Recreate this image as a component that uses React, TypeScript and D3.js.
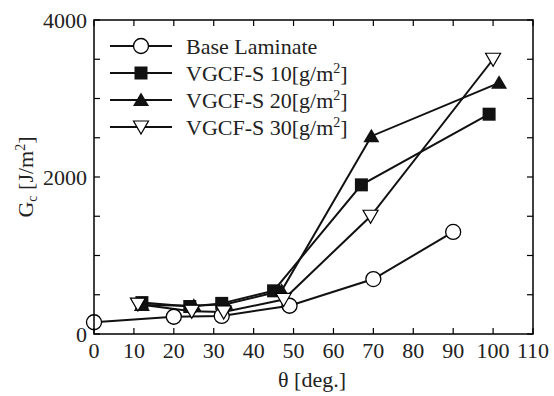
import React from "react";
import * as d3 from "d3";

const baseX = [0, 20, 32, 49, 70, 90];
const baseY = [150, 220, 230, 360, 700, 1300];
const s10X = [12, 24, 32, 45, 67, 99];
const s10Y = [400, 350, 390, 550, 1900, 2800];
const s20X = [12, 25, 33, 47, 69.5, 101.5];
const s20Y = [370, 360, 380, 550, 2520, 3200];
const s30X = [11, 24.5, 32.5, 47.5, 69.3, 100];
const s30Y = [380, 290, 280, 440, 1500, 3500];
const xTicks = [0, 10, 20, 30, 40, 50, 60, 70, 80, 90, 100, 110];
const yTicks = [0, 2000, 4000];
const yMinor = [0, 500, 1000, 1500, 2000, 2500, 3000, 3500, 4000];
const legendLabels = ["Base Laminate", "VGCF-S 10", "VGCF-S 20", "VGCF-S 30"];

const W = 554, H = 396;
const L = 94, R = 533, T = 20, B = 334;
const FONT = "Liberation Serif";
const FS = 22;
const SS = 14;

function Marker({ type, x, y }: { type: string; x: number; y: number }) {
  if (type === "circle")
    return <circle cx={x} cy={y} r={7.5} fill="#fff" stroke="#000" strokeWidth={1.3} />;
  if (type === "square")
    return <rect x={x - 6.5} y={y - 6.5} width={13} height={13} fill="#111" />;
  if (type === "up")
    return <path d={`M${x},${y - 7.5}L${x + 8},${y + 6}L${x - 8},${y + 6}Z`} fill="#111" />;
  return (
    <path d={`M${x - 7.5},${y - 6}L${x + 7.5},${y - 6}L${x},${y + 7}Z`} fill="#fff" stroke="#000" strokeWidth={1.2} />
  );
}

export default function App() {
  const x = d3.scaleLinear().domain([0, 110]).range([L, R]);
  const y = d3.scaleLinear().domain([0, 4000]).range([B, T]);
  const series = [
    { xs: baseX, ys: baseY, type: "circle" },
    { xs: s10X, ys: s10Y, type: "square" },
    { xs: s20X, ys: s20Y, type: "up" },
    { xs: s30X, ys: s30Y, type: "down" },
  ];
  const line = d3.line<[number, number]>().x((d) => x(d[0])).y((d) => y(d[1]));
  const legY = [46, 73, 100, 127];
  const ts = { fontFamily: FONT };
  return (
    <svg width={W} height={H} style={{ position: "absolute", left: 0, top: 0, background: "#fff" }}>
      <rect x={0} y={0} width={W} height={H} fill="#fff" />
      {series.map((s, i) => (
        <path key={"l" + i} d={line(s.xs.map((v, j) => [v, s.ys[j]]) as [number, number][]) || ""} fill="none" stroke="#111" strokeWidth={2} />
      ))}
      {series.map((s, i) =>
        s.xs.map((v, j) => <Marker key={"m" + i + "_" + j} type={s.type} x={x(v)} y={y(s.ys[j])} />)
      )}
      <rect x={L} y={T} width={R - L} height={B - T} fill="none" stroke="#000" strokeWidth={1.5} />
      {xTicks.map((t) => (
        <g key={"xt" + t}>
          <line x1={x(t)} x2={x(t)} y1={B} y2={B - 6} stroke="#000" strokeWidth={1.2} />
          <line x1={x(t)} x2={x(t)} y1={T} y2={T + 6} stroke="#000" strokeWidth={1.2} />
          <text style={ts} x={x(t)} y={B + 24} fontSize={FS} textAnchor="middle" fill="#222">{t}</text>
        </g>
      ))}
      {yMinor.map((t) => (
        <g key={"yt" + t}>
          <line x1={L} x2={L + 6} y1={y(t)} y2={y(t)} stroke="#000" strokeWidth={1.2} />
          <line x1={R} x2={R - 6} y1={y(t)} y2={y(t)} stroke="#000" strokeWidth={1.2} />
        </g>
      ))}
      {yTicks.map((t) => (
        <text style={ts} key={"yl" + t} x={L - 7} y={y(t) + 8} fontSize={FS} textAnchor="end" fill="#222">{t}</text>
      ))}
      <text style={ts} x={312} y={387} fontSize={FS} textAnchor="middle" fill="#222">θ [deg.]</text>
      <text style={ts} transform={`translate(33,177) rotate(-90)`} fontSize={FS} textAnchor="middle" fill="#222">
        G<tspan fontSize={SS} dy={4}>c</tspan><tspan dy={-4}> [J/m</tspan><tspan fontSize={SS} dy={-8}>2</tspan><tspan dy={8}>]</tspan>
      </text>
      {legendLabels.map((lab, i) => (
        <g key={"lg" + i}>
          <line x1={110} x2={172} y1={legY[i]} y2={legY[i]} stroke="#111" strokeWidth={2} />
          <Marker type={series[i].type} x={141} y={legY[i]} />
          <text style={ts} x={186} y={legY[i] + 8} fontSize={FS} fill="#222">
            {lab}
            {i > 0 ? (
              <>
                <tspan>[g/m</tspan>
                <tspan fontSize={SS} dy={-8}>2</tspan>
                <tspan dy={8}>]</tspan>
              </>
            ) : null}
          </text>
        </g>
      ))}
    </svg>
  );
}
